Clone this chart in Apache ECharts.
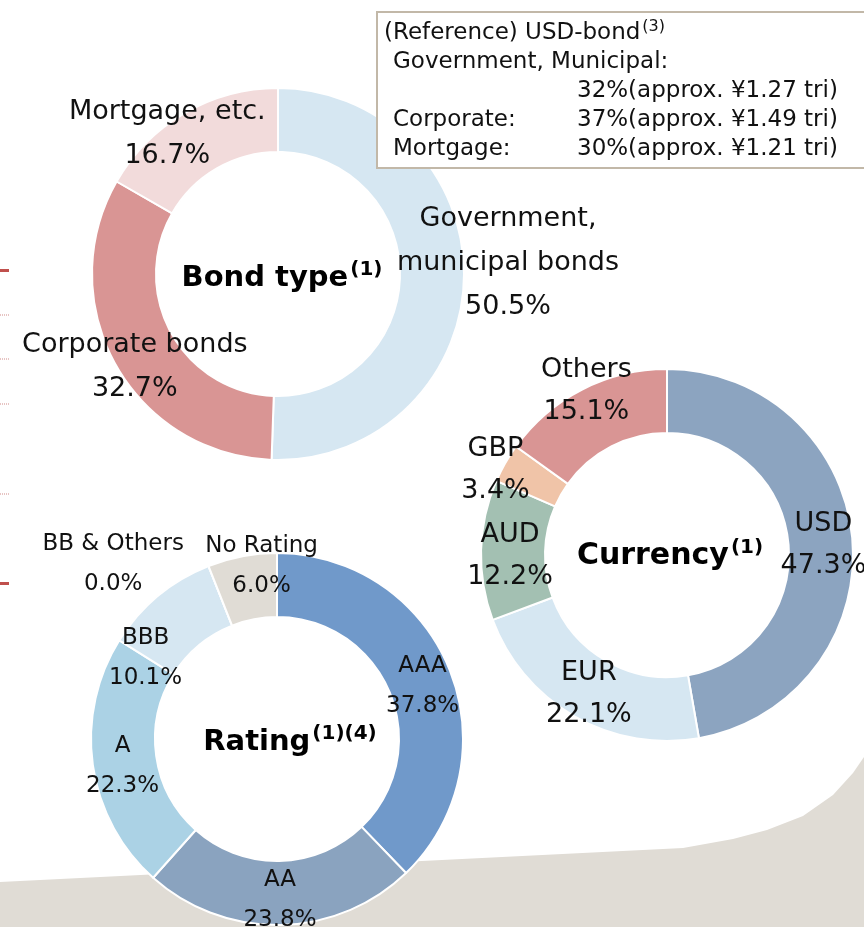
<!DOCTYPE html>
<html>
<head>
<meta charset="utf-8">
<title>Bond portfolio</title>
<script src="https://cdn.jsdelivr.net/npm/echarts@6/dist/echarts.min.js"></script>
<style>
  html, body { margin: 0; padding: 0; background: #fff; }
  #main { width: 864px; height: 927px; }
</style>
</head>
<body>
<div id="main"></div>
<script>
// data
var bondNames = ['Government,\nmunicipal bonds', 'Corporate bonds', 'Mortgage, etc.'];
var bondValues = [50.5, 32.7, 16.7];
var currencyNames = ['USD', 'EUR', 'AUD', 'GBP', 'Others'];
var currencyValues = [47.3, 22.1, 12.2, 3.4, 15.1];
var ratingNames = ['AAA', 'AA', 'A', 'BBB', 'BB & Others', 'No Rating'];
var ratingValues = [37.8, 23.8, 22.3, 10.1, 0.0, 6.0];
var refLines = [
  ['Government, Municipal:', ''],
  ['', '32%(approx. \u00a51.27 tri)'],
  ['Corporate:', '37%(approx. \u00a51.49 tri)'],
  ['Mortgage:', '30%(approx. \u00a51.21 tri)']
];

// styles
var bondColors = ['#d6e7f2', '#d99594', '#f2dbdb'];
var currencyColors = ['#8ca4c0', '#d6e7f2', '#a3c0b2', '#f0c4a8', '#d99594'];
var ratingColors = ['#7099ca', '#8aa3bf', '#abd2e5', '#d6e7f2', '#d6e7f2', '#e0dcd5'];
var bondOffsets = [[73, -14], [-6, 17], [-32, -4]];
var currencyOffsets = [[0, 4], [0, 3], [0, 5], [-35, -8], [-9, -24]];
var ratingOffsets = [[0, 6], [0, 4], [1, 5], [-31, 40], [-106, -29], [14, -19]];

var FONT = '"DejaVu Sans", Verdana, sans-serif';

function pieData(names, values, colors, offsets) {
  return names.map(function (n, i) {
    return {
      name: n,
      value: values[i],
      itemStyle: { color: colors[i] },
      label: { offset: offsets[i] }
    };
  });
}

function donut(center, data, fontSize, lineHeight) {
  return {
    type: 'pie',
    center: center,
    radius: [122, 186],
    startAngle: 90,
    clockwise: true,
    silent: true,
    itemStyle: { borderColor: '#fff', borderWidth: 2 },
    label: {
      show: true,
      position: 'inside',
      color: '#111',
      fontFamily: FONT,
      fontSize: fontSize,
      lineHeight: lineHeight,
      formatter: function (p) {
        return p.name + '\n' + p.value.toFixed(1) + '%';
      }
    },
    labelLine: { show: false },
    data: data
  };
}

function centerTitle(x, y, main, sup, size) {
  return {
    type: 'text',
    x: x, y: y, z: 50,
    style: {
      text: '{t|' + main + '}{s|' + sup + '}',
      align: 'center',
      verticalAlign: 'middle',
      rich: {
        t: { fontFamily: FONT, fontSize: size, fontWeight: 'bold', fill: '#000', lineHeight: 36 },
        s: { fontFamily: FONT, fontSize: 20, fontWeight: 'bold', fill: '#000', verticalAlign: 'top', lineHeight: 36, padding: [0, 0, 12, 2] }
      }
    }
  };
}

var graphics = [];
// beige background shape at the bottom
graphics.push({
  type: 'polygon', z: -10,
  shape: {
    points: [[0, 882], [683, 848], [733, 839], [767, 830], [803, 816], [833, 795], [853, 773], [864, 757], [864, 927], [0, 927]]
  },
  style: { fill: '#e0dcd5' }
});
// cut-off marks on the left edge
graphics.push({ type: 'rect', shape: { x: 0, y: 269, width: 9, height: 3 }, style: { fill: '#c0504d' } });
graphics.push({ type: 'rect', shape: { x: 0, y: 582, width: 9, height: 3 }, style: { fill: '#c0504d' } });
[315, 359, 404, 494].forEach(function (yy) {
  graphics.push({ type: 'line', shape: { x1: 0, y1: yy, x2: 9, y2: yy }, style: { stroke: '#d08a88', lineWidth: 1, lineDash: [1, 1] } });
});

// reference box
graphics.push({
  type: 'rect', z: 60,
  shape: { x: 377, y: 12, width: 500, height: 156 },
  style: { fill: '#fff', stroke: '#c2b8a8', lineWidth: 2 }
});
graphics.push({
  type: 'text', x: 384, y: 33, z: 61,
  style: {
    text: '{a|(Reference) USD-bond}{s|(3)}',
    verticalAlign: 'middle',
    rich: {
      a: { fontFamily: FONT, fontSize: 23, fill: '#111', lineHeight: 28 },
      s: { fontFamily: FONT, fontSize: 16, fill: '#111', verticalAlign: 'top', lineHeight: 28, padding: [0, 0, 9, 2] }
    }
  }
});
refLines.forEach(function (row, i) {
  var yy = 62 + i * 29;
  if (row[0]) {
    graphics.push({ type: 'text', x: 393, y: yy, z: 61, style: { text: row[0], font: '23px ' + FONT, fill: '#111', verticalAlign: 'middle' } });
  }
  if (row[1]) {
    graphics.push({ type: 'text', x: 577, y: yy, z: 61, style: { text: row[1], font: '23px ' + FONT, fill: '#111', verticalAlign: 'middle' } });
  }
});

graphics.push(centerTitle(282, 278, 'Bond type', '(1)', 29));
graphics.push(centerTitle(670, 556, 'Currency', '(1)', 30));
graphics.push(centerTitle(290, 742, 'Rating', '(1)(4)', 29));

var myChart = echarts.init(document.getElementById('main'));
myChart.setOption({
  animation: false,
  backgroundColor: '#fff',
  graphic: graphics,
  series: [
    donut([278, 274], pieData(bondNames, bondValues, bondColors, bondOffsets), 27, 44),
    donut([667, 555], pieData(currencyNames, currencyValues, currencyColors, currencyOffsets), 27, 42),
    donut([277, 739], pieData(ratingNames, ratingValues, ratingColors, ratingOffsets), 23, 40)
  ]
});
</script>
</body>
</html>
